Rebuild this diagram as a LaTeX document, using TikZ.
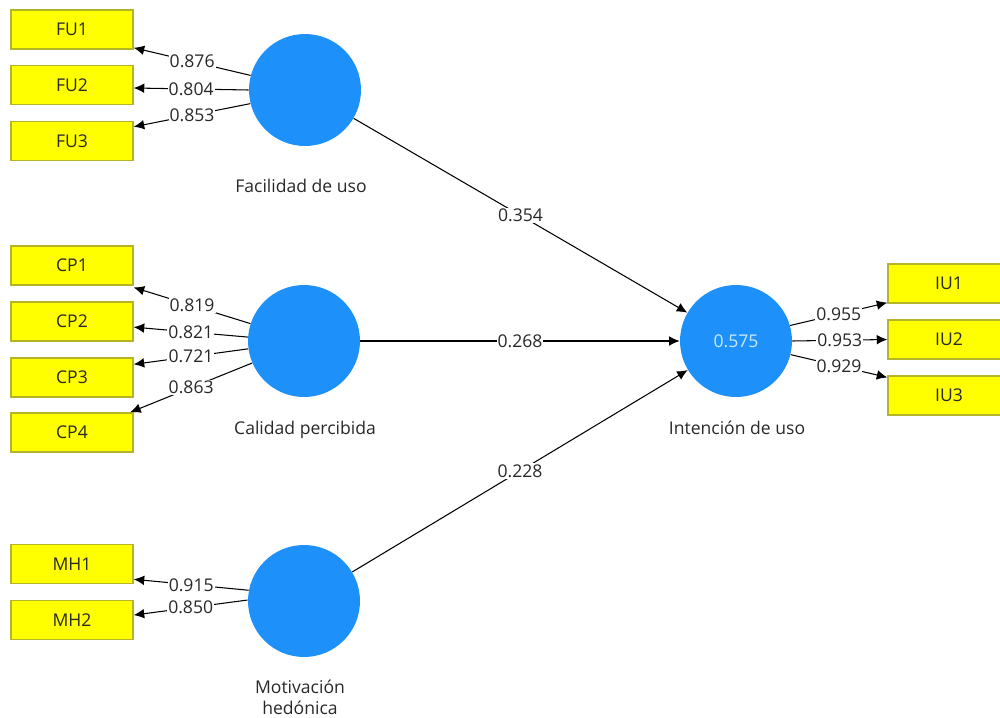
\documentclass[tikz,border=0pt]{standalone}
\usepackage{fontspec}
\setmainfont{Open Sans}
\usetikzlibrary{arrows.meta}
\definecolor{lvblue}{RGB}{30,144,250}
\definecolor{indyellow}{RGB}{255,255,0}
\definecolor{indborder}{RGB}{180,180,40}
\definecolor{txtgray}{RGB}{40,40,40}
\tikzset{
  indicator/.style={draw=indborder,fill=indyellow,line width=0.8pt,minimum width=2.44cm,minimum height=0.78cm,inner sep=0pt,text=txtgray,font=\fontsize{10}{12}\selectfont},
  latent/.style={circle,fill=lvblue,minimum size=2.24cm,inner sep=0pt,text={rgb,255:red,200;green,235;blue,255},font=\fontsize{10}{12}\selectfont},
  lvname/.style={text=txtgray,font=\fontsize{10}{12}\selectfont,align=center},
  coef/.style={fill=white,inner sep=0.6pt,text=txtgray,font=\fontsize{10}{12}\selectfont},
  path/.style={line width=0.6pt,-{Latex[length=6pt,width=5.5pt]}}
}
\begin{document}
\begin{tikzpicture}[x=0.02cm,y=-0.02cm]
	\clip (0,0) rectangle (1000,717);
	% latent variables
	\node[latent] (fu) at (305,90) {};
	\node[latent] (cp) at (304,341) {};
	\node[latent] (mh) at (304,601) {};
	\node[latent] (iu) at (736,341) {0.575};
	\node[lvname] (fulab) at (301,186) {Facilidad de uso};
	\node[lvname] (cplab) at (305,430) {Calidad percibida};
	\node[lvname] (mhlab) at (300,697) {Motivación\\hedónica};
	\node[lvname] (iulab) at (737,428) {Intención de uso};
	% indicators
	\node[indicator] (fu1) at (72,29.5) {FU1};
	\node[indicator] (fu2) at (72,85) {FU2};
	\node[indicator] (fu3) at (72,141) {FU3};
	\node[indicator] (cp1) at (72,265.5) {CP1};
	\node[indicator] (cp2) at (72,321.5) {CP2};
	\node[indicator] (cp3) at (72,377.5) {CP3};
	\node[indicator] (cp4) at (72,432.5) {CP4};
	\node[indicator] (mh1) at (72,564) {MH1};
	\node[indicator] (mh2) at (72,620) {MH2};
	\node[indicator] (iu1) at (949,283.5) {IU1};
	\node[indicator] (iu2) at (949,339.5) {IU2};
	\node[indicator] (iu3) at (949,395.5) {IU3};
	% outer loadings
	\draw[path] (fu.165) -- node[coef]{0.876} ([yshift=1.1pt]fu1.south east);
	\draw[path] (fu.180) -- node[coef]{0.804} ([yshift=-1.7pt]fu2.east);
	\draw[path] (fu.194) -- node[coef]{0.853} ([yshift=-3.4pt]fu3.north east);
	\draw[path] (cp.162) -- node[coef]{0.819} ([yshift=-1pt]cp1.south east);
	\draw[path] (cp.176) -- node[coef]{0.821} ([yshift=-3.2pt]cp2.east);
	\draw[path] (cp.188) -- node[coef]{0.721} ([yshift=-4pt]cp3.north east);
	\draw[path] (cp.203) -- node[coef]{0.863} ([xshift=-2pt]cp4.north east);
	\draw[path] (mh.169) -- node[coef]{0.915} ([yshift=2.8pt]mh1.south east);
	\draw[path] (mh.179) -- node[coef]{0.850} ([yshift=2.8pt]mh2.east);
	\draw[path] (iu.16) -- node[coef]{0.955} ([yshift=0.6pt]iu1.south west);
	\draw[path] (iu.0) -- node[coef]{0.953} (iu2.west);
	\draw[path] (iu.346) -- node[coef]{0.929} ([yshift=-1.2pt]iu3.north west);
	% inner model
	\draw[path] (fu) -- node[coef]{0.354} (iu);
	\draw[path] (cp) -- node[coef]{0.268} (iu);
	\draw[path] (mh) -- node[coef]{0.228} (iu);
\end{tikzpicture}
\end{document}
